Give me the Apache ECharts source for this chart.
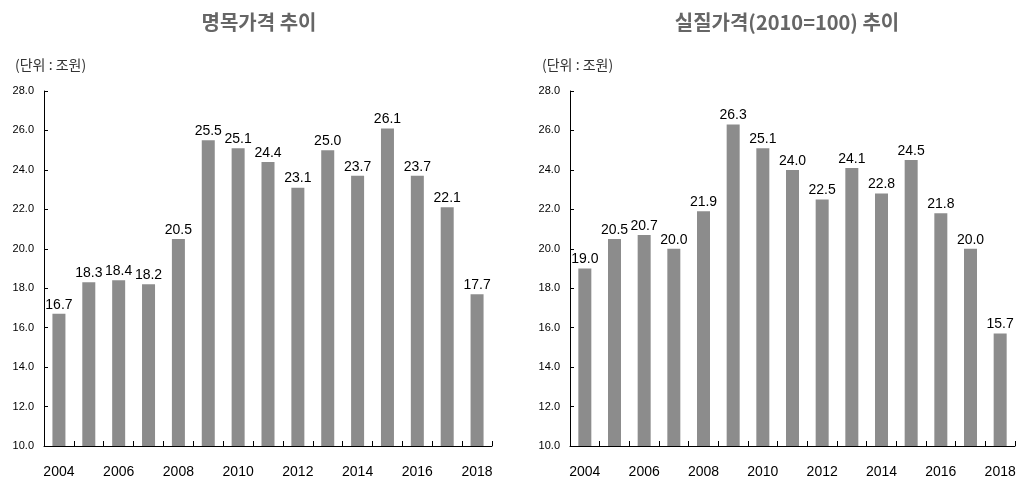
<!DOCTYPE html>
<html><head><meta charset="utf-8">
<script src="https://cdn.jsdelivr.net/npm/echarts@6/dist/echarts.min.js"></script>
<style>html,body{margin:0;padding:0;background:#fff}#c{width:1019px;height:479px}</style>
</head><body><div id="c"></div>
<script>
const years = ['2004','2005','2006','2007','2008','2009','2010','2011','2012','2013','2014','2015','2016','2017','2018'];
const nominal = [16.7, 18.3, 18.4, 18.2, 20.5, 25.5, 25.1, 24.4, 23.1, 25.0, 23.7, 26.1, 23.7, 22.1, 17.7];
const real = [19.0, 20.5, 20.7, 20.0, 21.9, 26.3, 25.1, 24.0, 22.5, 24.1, 22.8, 24.5, 21.8, 20.0, 15.7];
const titles = ['명목가격 추이', '실질가격(2010=100) 추이'];
const unitLabel = '(단위 : 조원)';

const numFont = '"Liberation Sans", Arial, sans-serif';
const krFont = '"Noto Sans CJK KR", sans-serif';
const chart = echarts.init(document.getElementById('c'));

function xAxis(i){
  return {type:'category', gridIndex:i, data:years,
    axisLine:{lineStyle:{color:'#000',width:1}},
    axisTick:{show:true, inside:true, length:5, interval:0, lineStyle:{color:'#000'}},
    axisLabel:{interval:1, color:'#000', fontSize:14, fontFamily:numFont, margin:19}};
}
function yAxis(i){
  return {type:'value', gridIndex:i, min:10, max:28, interval:2,
    axisLine:{show:true, lineStyle:{color:'#000',width:1}},
    axisTick:{show:true, inside:true, length:4, lineStyle:{color:'#000'}},
    splitLine:{show:false},
    axisLabel:{color:'#000', fontSize:11, fontFamily:numFont, margin:10, formatter:v=>v.toFixed(1)}};
}
function series(i, data){
  return {type:'bar', xAxisIndex:i, yAxisIndex:i, data:data, barWidth:13,
    itemStyle:{color:'#8c8c8c'},
    label:{show:true, position:'top', distance:2, color:'#000', fontSize:14, fontFamily:numFont, formatter:p=>p.value.toFixed(1)}};
}
chart.setOption({
  animation:false,
  title:[
    {text:titles[0], left:254, top:7, textAlign:'center', textStyle:{fontFamily:krFont, fontSize:20, fontWeight:'bold', color:'#666'}},
    {text:titles[1], left:782, top:7, textAlign:'center', textStyle:{fontFamily:krFont, fontSize:20, fontWeight:'bold', color:'#666'}},
    {text:unitLabel, left:10, top:53, textStyle:{fontFamily:krFont, fontSize:14, fontWeight:'normal', color:'#333'}},
    {text:unitLabel, left:537, top:53, textStyle:{fontFamily:krFont, fontSize:14, fontWeight:'normal', color:'#333'}}
  ],
  grid:[
    {left:44, right:527, top:91, bottom:33, containLabel:false},
    {left:570, right:4, top:91, bottom:33, containLabel:false}
  ],
  xAxis:[xAxis(0), xAxis(1)],
  yAxis:[yAxis(0), yAxis(1)],
  series:[series(0, nominal), series(1, real)]
});
</script></body></html>
